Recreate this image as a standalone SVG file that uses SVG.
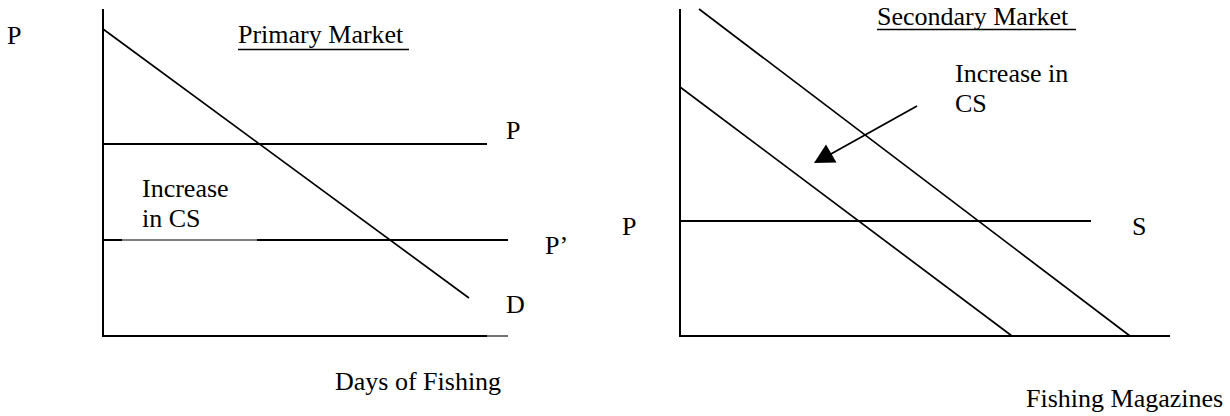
<svg xmlns="http://www.w3.org/2000/svg" width="1230" height="416" viewBox="0 0 1230 416">
  <style>
    text { font-family: "Liberation Serif", "Times New Roman", serif; font-size: 26px; fill: #000; }
    .axis { stroke: #000; stroke-width: 2; fill: none; }
    .curve { stroke: #000; stroke-width: 1.7; fill: none; }
    .thin { stroke: #000; stroke-width: 1.1; fill: none; }
  </style>
  <rect width="1230" height="416" fill="#fff"/>

  <g id="primary-market">
    <g id="primary-axes">
      <line class="axis" x1="103" y1="9" x2="103" y2="337"/>
      <line class="axis" x1="102" y1="336" x2="487" y2="336"/>
      <line class="thin" x1="487" y1="336" x2="508" y2="336"/>
    </g>
    <g id="primary-lines">
      <line class="curve" x1="103" y1="29" x2="469" y2="298"/>
      <line class="axis" x1="103" y1="144" x2="487" y2="144"/>
      <line class="axis" x1="103" y1="240" x2="122" y2="240"/>
      <line class="thin" x1="122" y1="240" x2="257" y2="240"/>
      <line class="axis" x1="257" y1="240" x2="508" y2="240"/>
    </g>
    <g id="primary-labels">
      <text x="7" y="44">P</text>
      <text x="238" y="43">Primary Market</text>
      <line x1="238" y1="49.5" x2="409" y2="49.5" stroke="#000" stroke-width="1.5"/>
      <text x="506" y="139">P</text>
      <text x="142" y="197">Increase</text>
      <text x="142" y="227">in CS</text>
      <text x="545" y="254">P’</text>
      <text x="506" y="313">D</text>
      <text x="335" y="390">Days of Fishing</text>
    </g>
  </g>

  <g id="secondary-market">
    <g id="secondary-axes">
      <line class="axis" x1="680" y1="9" x2="680" y2="337"/>
      <line class="axis" x1="679" y1="336" x2="1170" y2="336"/>
    </g>
    <g id="secondary-lines">
      <line class="curve" x1="699" y1="9" x2="1130" y2="336"/>
      <line class="curve" x1="680" y1="87" x2="1012" y2="336"/>
      <line class="axis" x1="680" y1="221" x2="1091" y2="221"/>
    </g>
    <g id="secondary-labels">
      <text x="622" y="235">P</text>
      <text x="1132" y="235">S</text>
      <text x="877" y="25">Secondary Market</text>
      <line x1="877" y1="29.5" x2="1076" y2="29.5" stroke="#000" stroke-width="1.5"/>
      <text x="955" y="82">Increase in</text>
      <text x="955" y="112">CS</text>
      <text x="1026" y="407">Fishing Magazines</text>
    </g>
  </g>

  <g id="connectors">
    <line x1="917" y1="106" x2="830" y2="154.5" stroke="#000" stroke-width="1.8"/>
    <polygon points="814,163 826,144.5 836.5,162.5" fill="#000"/>
  </g>
</svg>
